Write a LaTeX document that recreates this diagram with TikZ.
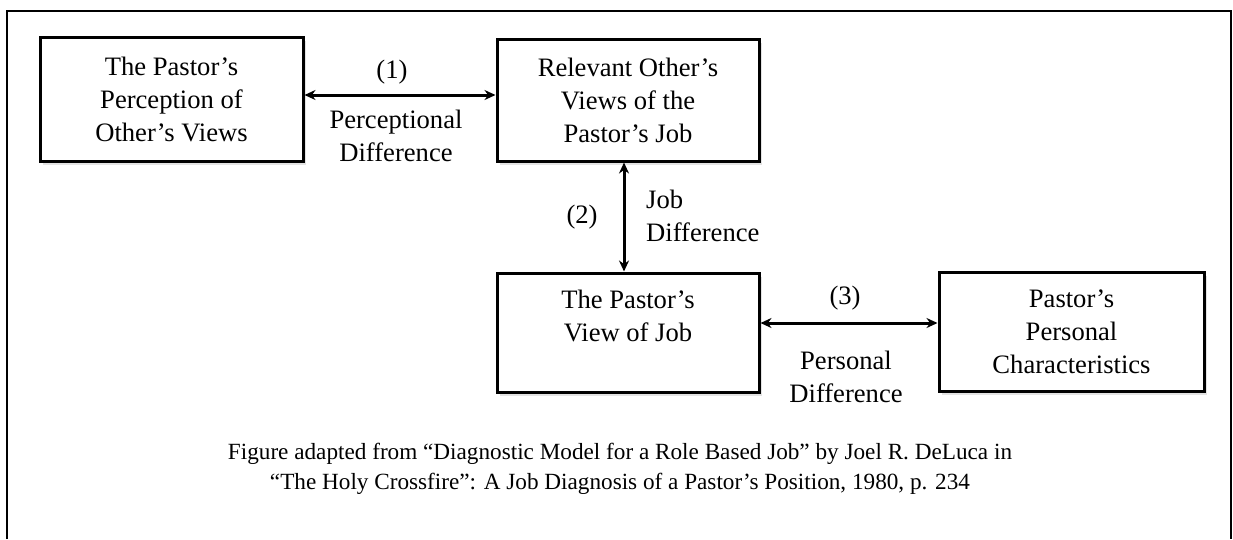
\documentclass[tikz,border=0pt]{standalone}
\usepackage{fontspec}
\setmainfont{Liberation Serif}[Ligatures=TeX]
\usetikzlibrary{arrows.meta,shadows}
\begin{document}
\begin{tikzpicture}[x=1pt,y=-1pt,
  box/.style={draw,line width=3pt,fill=white,align=center,
    font=\fontsize{26.6}{33}\selectfont,inner sep=0pt,
    drop shadow={opacity=0.22,shadow xshift=3pt,shadow yshift=-4pt}},
  link/.style={line width=3pt,{Stealth[length=11pt,width=10pt]}-{Stealth[length=11pt,width=10pt]}},
  lbl/.style={font=\fontsize{26.6}{33}\selectfont,inner sep=0pt,align=center},
  srcnote/.style={font=\fontsize{23.2}{30}\selectfont,inner sep=0pt,align=center}]
\useasboundingbox (0,0) rectangle (1233,539);
% open frame round the figure
\draw[line width=2pt] (7,539) -- (7,11) -- (1231,11) -- (1231,539);
% the four boxes
\node[box,minimum width=263pt,minimum height=124pt] (perc) at (171.5,99)
  {The Pastor’s\\Perception of\\Other’s Views};
\node[box,minimum width=262pt,minimum height=122pt] (rel) at (628,100)
  {Relevant Other’s\\Views of the\\Pastor’s Job};
\node[box,minimum width=262pt,minimum height=119pt] (view) at (628,332.5)
  {The Pastor’s\\View of Job\\\mbox{}};
\node[box,minimum width=265pt,minimum height=119pt] (char) at (1071.5,331.5)
  {Pastor’s\\Personal\\Characteristics};
% connectors
\draw[link] (perc.east |- 0,95) -- (rel.west |- 0,95);
\draw[link] (rel.south -| 624,0) -- (view.north -| 624,0);
\draw[link] (view.east |- 0,323) -- (char.west |- 0,323);
% connector labels
\node[lbl] (n1) at (392,72) {(1)};
\node[lbl] (d1) at (396,136) {Perceptional\\Difference};
\node[lbl] (n2) at (582,217) {(2)};
\node[lbl,align=left,anchor=west] (d2) at (646,216) {Job\\Difference};
\node[lbl] (n3) at (845,298) {(3)};
\node[lbl] (d3) at (846,376.5) {Personal\\Difference};
% source note
\node[srcnote] (src) at (620,469) {Figure adapted from “Diagnostic Model for a Role Based Job” by Joel R. DeLuca in\\“The Holy Crossfire”: A Job Diagnosis of a Pastor’s Position, 1980, p. 234};
\end{tikzpicture}
\end{document}
